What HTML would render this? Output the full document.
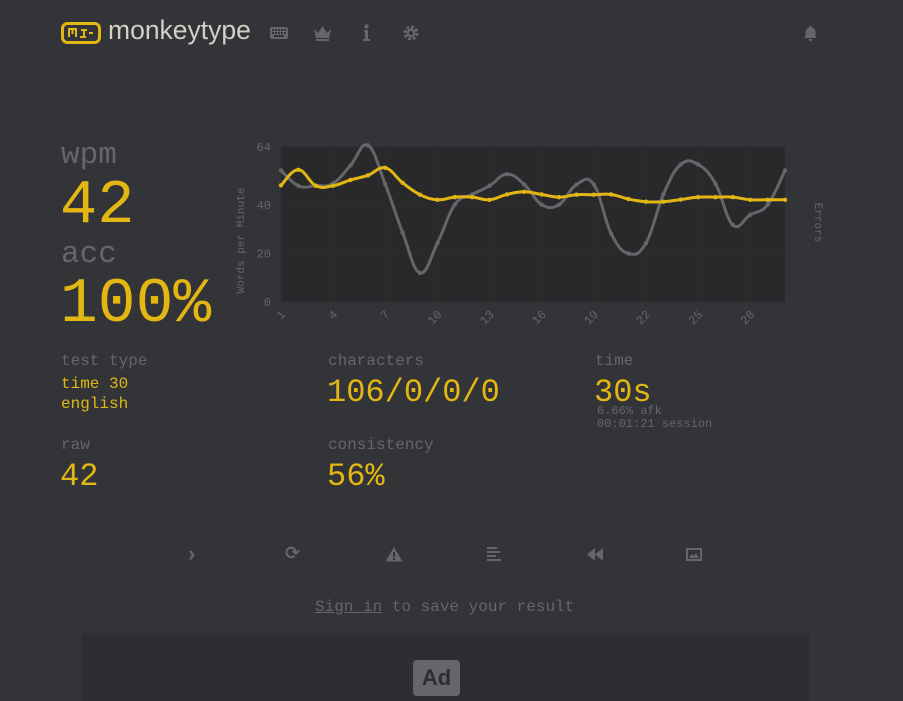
<!DOCTYPE html>
<html><head><meta charset="utf-8">
<style>
*{margin:0;padding:0;box-sizing:border-box}
body{width:903px;height:701px;background:#323437;overflow:hidden;position:relative;font-family:"Liberation Mono",monospace;color:#646669}
.a{position:absolute;white-space:nowrap}
.y{color:#e2b714}
</style></head><body>
<div class="a" style="left:61px;top:20px;width:200px;height:26px">
<svg class="a" style="left:0;top:2px" width="40" height="22"><rect x="1.5" y="1.5" width="37" height="19" rx="5" fill="none" stroke="#e2b714" stroke-width="3"/><path d="M8 15V7h7v8M11.5 7v5M19 15h6M20 8h6M23 8v7M28 11h4" stroke="#e2b714" stroke-width="2" fill="none"/></svg>
<div class="a" style="left:47px;top:-5px;font-family:'Liberation Sans',sans-serif;font-size:26.5px;color:#d1d0c5">monkeytype</div>
</div>
<svg class="a" style="left:270px;top:27px" width="18" height="12"><rect width="18" height="12" rx="2" fill="#646669"/><g fill="#323437"><rect x="2" y="2" width="2" height="2"/><rect x="5" y="2" width="2" height="2"/><rect x="8" y="2" width="2" height="2"/><rect x="11" y="2" width="2" height="2"/><rect x="14" y="2" width="2" height="2"/><rect x="2" y="5" width="2" height="2"/><rect x="5" y="5" width="2" height="2"/><rect x="8" y="5" width="2" height="2"/><rect x="11" y="5" width="2" height="2"/><rect x="14" y="5" width="2" height="2"/><rect x="4" y="8" width="10" height="2"/></g></svg>
<svg class="a" style="left:313px;top:25px" width="19" height="16"><path d="M1 4l4 4 4.5-7 4.5 7 4-4-2 9H3z M3 14h13v2H3z" fill="#646669"/></svg>
<svg class="a" style="left:363px;top:24px" width="7" height="17"><circle cx="3.5" cy="2.5" r="2.2" fill="#646669"/><path d="M1 6h4v9h2v2H0v-2h2V8H1z" fill="#646669"/></svg>
<svg class="a" style="left:403px;top:25px" width="16" height="16"><circle cx="8" cy="8" r="5.5" fill="none" stroke="#646669" stroke-width="4" stroke-dasharray="2.6 1.7"/><circle cx="8" cy="8" r="4" fill="#646669"/><circle cx="8" cy="8" r="2" fill="#323437"/></svg>
<svg class="a" style="left:803px;top:25px" width="15" height="16"><path d="M7.5 1a1 1 0 0 1 1 1.2A5 5 0 0 1 12.5 7v4l1.5 2H1l1.5-2V7a5 5 0 0 1 4-4.8A1 1 0 0 1 7.5 1zM5.5 14h4a2 2 0 0 1-4 0z" fill="#646669"/></svg>

<div class="a" style="left:61px;top:138px;font-size:31px">wpm</div>
<div class="a y" style="left:60px;top:170px;font-size:62px">42</div>
<div class="a" style="left:61px;top:237px;font-size:31px">acc</div>
<div class="a y" style="left:60px;top:269px;font-size:63px">100%</div>

<svg class="a" id="chart" style="left:230px;top:130px" width="610" height="210"></svg>

<div class="a" style="left:61px;top:352px;font-size:16px">test type</div>
<div class="a y" style="left:61px;top:374px;font-size:16px;line-height:20px">time 30<br>english</div>
<div class="a" style="left:61px;top:436px;font-size:16px">raw</div>
<div class="a y" style="left:60px;top:458px;font-size:32px">42</div>
<div class="a" style="left:328px;top:352px;font-size:16px">characters</div>
<div class="a y" style="left:327px;top:374px;font-size:32px">106/0/0/0</div>
<div class="a" style="left:328px;top:436px;font-size:16px">consistency</div>
<div class="a y" style="left:327px;top:458px;font-size:32px">56%</div>
<div class="a" style="left:595px;top:352px;font-size:16px">time</div>
<div class="a y" style="left:594px;top:374px;font-size:32px">30s</div>
<div class="a" style="left:597px;top:405px;font-size:12px;line-height:13px">6.66% afk<br>00:01:21 session</div>

<div class="a" style="left:188px;top:541px;font-size:22px;font-family:'Liberation Sans',sans-serif;font-weight:bold">›</div>
<div class="a" style="left:285px;top:543px;font-size:18px;font-family:'DejaVu Sans',sans-serif;font-weight:bold">⟳</div>
<svg class="a" style="left:385px;top:546px" width="18" height="16"><path d="M9 1L17.5 15.5H0.5z" fill="#646669"/><rect x="8" y="6" width="2" height="5" fill="#323437"/><rect x="8" y="12" width="2" height="2" fill="#323437"/></svg>
<svg class="a" style="left:487px;top:547px" width="15" height="14"><g fill="#646669"><rect y="0" width="10" height="2"/><rect y="4" width="13" height="2"/><rect y="8" width="9" height="2"/><rect y="12" width="14" height="2"/></g></svg>
<svg class="a" style="left:586px;top:548px" width="18" height="13"><path d="M9 0v13L1 6.5zM17 0v13L9 6.5z" fill="#646669"/></svg>
<svg class="a" style="left:686px;top:548px" width="16" height="13"><rect x="1" y="1" width="14" height="11" fill="none" stroke="#646669" stroke-width="2"/><path d="M3 10l3-4 2 2 2-3 3 5z" fill="#646669"/></svg>

<div class="a" style="left:315px;top:598px;font-size:16px"><span style="text-decoration:underline">Sign in</span> to save your result</div>
<div class="a" style="left:81px;top:633px;width:728px;height:68px;background:#2c2e31">
<div class="a" style="left:332px;top:27px;width:47px;height:36px;background:#646669;border-radius:4px;color:#2c2e31;font:bold 22px 'Liberation Sans',sans-serif;text-align:center;line-height:36px">Ad</div>
</div>

<script>
const labels=[1,2,3,4,5,6,7,8,9,10,11,12,13,14,15,16,17,18,19,20,21,22,23,24,25,26,27,28,29,30];
const wpmSeries=[48.2,54.6,48,48,50.4,52.3,55.4,49.2,44.3,42.2,43.3,43.3,42.2,44.4,45.5,44.4,43.3,44.3,44.3,44.4,42.5,41.4,41.4,42.3,43.3,43.3,43.3,42.2,42.2,42.2];
const rawSeries=[54.3,48,48,49,56.4,64.7,48.6,28.6,12,24.3,40.2,44.4,48,52.8,48.5,40.2,40.2,48.5,48.5,28.2,20,24.3,44.4,56.8,56.8,48.8,31.8,36,40.2,54.3];
const yTicks=[0,20,40,64];
const xTickLabels=[1,4,7,10,13,16,19,22,25,28];
const yMax=64;
const svg=document.getElementById('chart');
const NS='http://www.w3.org/2000/svg';
const L=51,R=555,T=17,B=172;
const xs=i=>L+(R-L)*i/(labels.length-1);
const ys=v=>B-(B-T)*v/yMax;
function mk(t,a){const e=document.createElementNS(NS,t);for(const k in a)e.setAttribute(k,a[k]);svg.appendChild(e);return e;}
const bg=mk('rect',{x:L,y:T,width:R-L,height:B-T,fill:'#29292b'});


yTicks.forEach(v=>{
 const g=mk('line',{x1:L-4,x2:R,y1:ys(v),y2:ys(v),stroke:'#2d2e30','stroke-width':1});
 
 
 const t=mk('text',{x:L-10,y:ys(v)+4,'text-anchor':'end','font-size':12,fill:'#646669','font-family':'Liberation Mono,monospace'});
 t.textContent=v;
 
 
});
xTickLabels.forEach(v=>{
 const i=labels.indexOf(v),x=xs(i);
 const g=mk('line',{x1:x,x2:x,y1:T,y2:B+4,stroke:'#2d2e30','stroke-width':1});
 
 
 const t=mk('text',{x:x+5,y:B+13,'text-anchor':'end','font-size':12,fill:'#646669','font-family':'Liberation Mono,monospace',transform:`rotate(-45 ${x+5} ${B+13})`});
 t.textContent=v;
 
 
});
const yt=mk('text',{x:14,y:(T+B)/2+16,'text-anchor':'middle','font-size':11,fill:'#646669','font-family':'Liberation Mono,monospace',transform:`rotate(-90 14 ${(T+B)/2+16})`});
yt.textContent='Words per Minute';


const et=mk('text',{x:585,y:(T+B)/2-2,'text-anchor':'middle','font-size':11,fill:'#646669','font-family':'Liberation Mono,monospace',transform:`rotate(90 585 ${(T+B)/2-2})`});
et.textContent='Errors';


function path(vals){
 const p=vals.map((v,i)=>[xs(i),ys(v)]);let d=`M${p[0][0]},${p[0][1]}`;const k=0.2;
 for(let i=0;i<p.length-1;i++){const p0=p[i-1]||p[i],p1=p[i],p2=p[i+1],p3=p[i+2]||p2;
  d+=`C${p1[0]+(p2[0]-p0[0])*k},${p1[1]+(p2[1]-p0[1])*k} ${p2[0]-(p3[0]-p1[0])*k},${p2[1]-(p3[1]-p1[1])*k} ${p2[0]},${p2[1]}`;}
 return d;}
function series(vals,color,name,w){
 const l=mk('path',{d:path(vals),fill:'none',stroke:color,'stroke-width':w});
 
 
 vals.forEach((v,i)=>{const c=mk('circle',{cx:xs(i),cy:ys(v),r:2.2,fill:color});
  
  });
}
series(rawSeries,'#646669','raw',3);
series(wpmSeries,'#e2b714','wpm',3);
</script>
</body></html>
